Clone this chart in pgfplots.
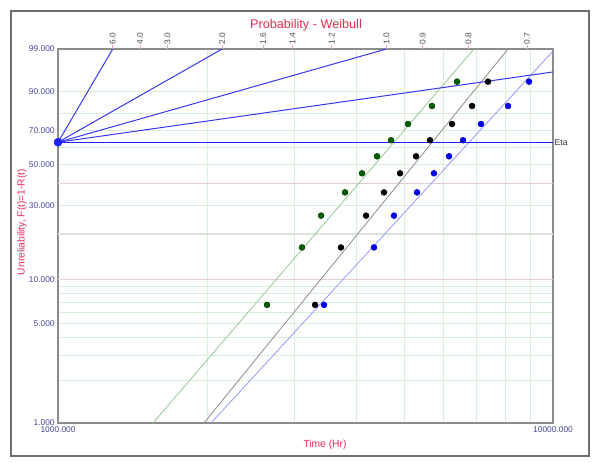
\documentclass[border=0pt]{standalone}
\usepackage{pgfplots}
\pgfplotsset{compat=1.18}
\usepackage{fontspec}
\setmainfont{Liberation Sans}
\definecolor{tickblue}{RGB}{72,72,155}
\definecolor{titlered}{RGB}{225,45,85}
\definecolor{gridgreen}{RGB}{215,238,215}
\definecolor{gridpink}{RGB}{228,205,210}
\definecolor{gridmid}{RGB}{218,228,218}
\definecolor{betablue}{RGB}{55,55,240}
\definecolor{etablue}{RGB}{30,30,255}
\definecolor{ptgreen}{RGB}{0,95,0}
\definecolor{fitgreen}{RGB}{150,200,150}
\definecolor{fitgray}{RGB}{140,140,140}
\definecolor{fitblue}{RGB}{150,150,255}
\definecolor{ptblue}{RGB}{0,0,240}
\definecolor{framegray}{RGB}{110,110,110}
\definecolor{axisgray}{RGB}{140,140,140}
\definecolor{toptick}{RGB}{235,170,180}

\pgfplotsset{
  weibully/.style={
    y coord trafo/.code={\begingroup\pgfkeys{/pgf/fpu=true,/pgf/fpu/output format=fixed}\pgfmathparse{ln(-ln(1-(##1)/100))}\xdef\wbres{\pgfmathresult}\endgroup\edef\pgfmathresult{\wbres}},
  }
}

\begin{document}
\begin{tikzpicture}
\path[use as bounding box] (0pt,0pt) rectangle (450pt,351pt);
\draw[line width=1.5pt, framegray] (8.25pt,9pt) rectangle (441.75pt,342.75pt);

\begin{axis}[
  at={(43.5pt,33.75pt)}, anchor=south west,
  scale only axis, width=371.25pt, height=280.5pt,
  xmode=log, xmin=1000, xmax=10000,
  weibully,
  ymin=1, ymax=99,
  axis line style={axisgray, line width=0.9pt},
  major tick length=0pt, minor tick length=0pt,
  xtick={1000,10000}, xticklabels={1000.000,10000.000},
  minor xtick={2000,3000,4000,5000,6000,7000,8000,9000},
  ytick={1,5,10,30,50,70,90,99},
  yticklabels={1.000,5.000,10.000,30.000,50.000,70.000,90.000,99.000},
  minor ytick={2,3,4,6,7,8,9,20,40,60,80},
  grid=both,
  major grid style={gridgreen, line width=0.7pt},
  minor grid style={gridgreen, line width=0.7pt},
  extra y ticks={10,40}, extra y tick labels={},
  extra y tick style={grid=major, major grid style={gridpink, line width=0.7pt}},
  ticklabel style={font=\fontsize{6.3}{7}\selectfont, text=tickblue},
  xticklabel style={yshift=1pt},
  yticklabel style={xshift=1pt},
  clip=false,
]
% 20% gridline drawn a little stronger, as in the reference
\addplot[gridmid, line width=1.1pt] coordinates {(1000,20) (10000,20)};
% fitted lines
\addplot[fitgreen, line width=0.6pt] coordinates {(1556,1) (6925,99)};
\addplot[fitgray, line width=0.6pt] coordinates {(1972,1) (8112,99)};
\addplot[fitblue, line width=0.6pt] coordinates {(2038,1) (10000,98.84)};
% beta reference lines
\addplot[betablue, line width=0.75pt] coordinates {(1000,63.212) (1290,99)};
\addplot[betablue, line width=0.75pt] coordinates {(1000,63.212) (2146,99)};
\addplot[betablue, line width=0.75pt] coordinates {(1000,63.212) (4606,99)};
\addplot[betablue, line width=0.75pt] coordinates {(1000,63.212) (10000,95.77)};
\addplot[etablue, line width=1.1pt] coordinates {(1000,63.212) (10000,63.212)};
\addplot[only marks, mark=*, mark size=3pt, mark options={fill=etablue, draw=etablue}] coordinates {(1000,63.212)};
% data points
\addplot[only marks, mark=*, mark size=2.2pt, mark options={fill=ptgreen, draw=ptgreen!60!black}] coordinates {
 (2644,6.73) (3111,16.35) (3400,25.96) (3801,35.58) (4113,45.19)
 (4411,54.81) (4707,64.42) (5094,74.04) (5695,83.65) (6399,93.27)};
\addplot[only marks, mark=*, mark size=2.2pt, mark options={fill=black, draw=black}] coordinates {
 (3306,6.73) (3729,16.35) (4191,25.96) (4556,35.58) (4909,45.19)
 (5288,54.81) (5642,64.42) (6252,74.04) (6862,83.65) (7391,93.27)};
\addplot[only marks, mark=*, mark size=2.2pt, mark options={fill=ptblue, draw=ptblue!80!black}] coordinates {
 (3447,6.73) (4349,16.35) (4773,25.96) (5312,35.58) (5748,45.19)
 (6166,54.81) (6580,64.42) (7153,74.04) (8112,83.65) (8944,93.27)};
\node[anchor=west, inner sep=1pt, font=\fontsize{6.5}{7}\selectfont, text=black!80] at (axis cs:10000,63.212) {Eta};
\end{axis}

\begin{axis}[
  at={(43.5pt,33.75pt)}, anchor=south west,
  scale only axis, width=371.25pt, height=280.5pt,
  xmode=log, xmin=1000, xmax=10000, ymin=0, ymax=1,
  axis x line*=top, axis y line=none,
  axis line style={draw=none},
  xtick={1290,1465,1664,2146,2597,2977,3570,4606,5458,6747,8862},
  xticklabels={6.0,4.0,3.0,2.0,1.6,1.4,1.2,1.0,0.9,0.8,0.7},
  minor xtick={},
  tick align=outside, major tick length=3pt,
  major tick style={toptick, line width=0.6pt},
  xticklabel style={rotate=90, anchor=west, font=\fontsize{6.3}{7}\selectfont, text=black!70, inner sep=0.5pt},
]
\addplot[draw=none] coordinates {(1000,0.5) (10000,0.5)};
\end{axis}

\node[font=\fontsize{9.5}{11}\selectfont, text=titlered] at (229.5pt,332.25pt) {Probability - Weibull};
\node[font=\fontsize{7.7}{9}\selectfont, text=titlered] at (243.75pt,17.25pt) {Time (Hr)};
\node[font=\fontsize{7.7}{9}\selectfont, text=titlered, rotate=90] at (16.5pt,184.5pt) {Unreliability, F(t)=1-R(t)};
\end{tikzpicture}
\end{document}
